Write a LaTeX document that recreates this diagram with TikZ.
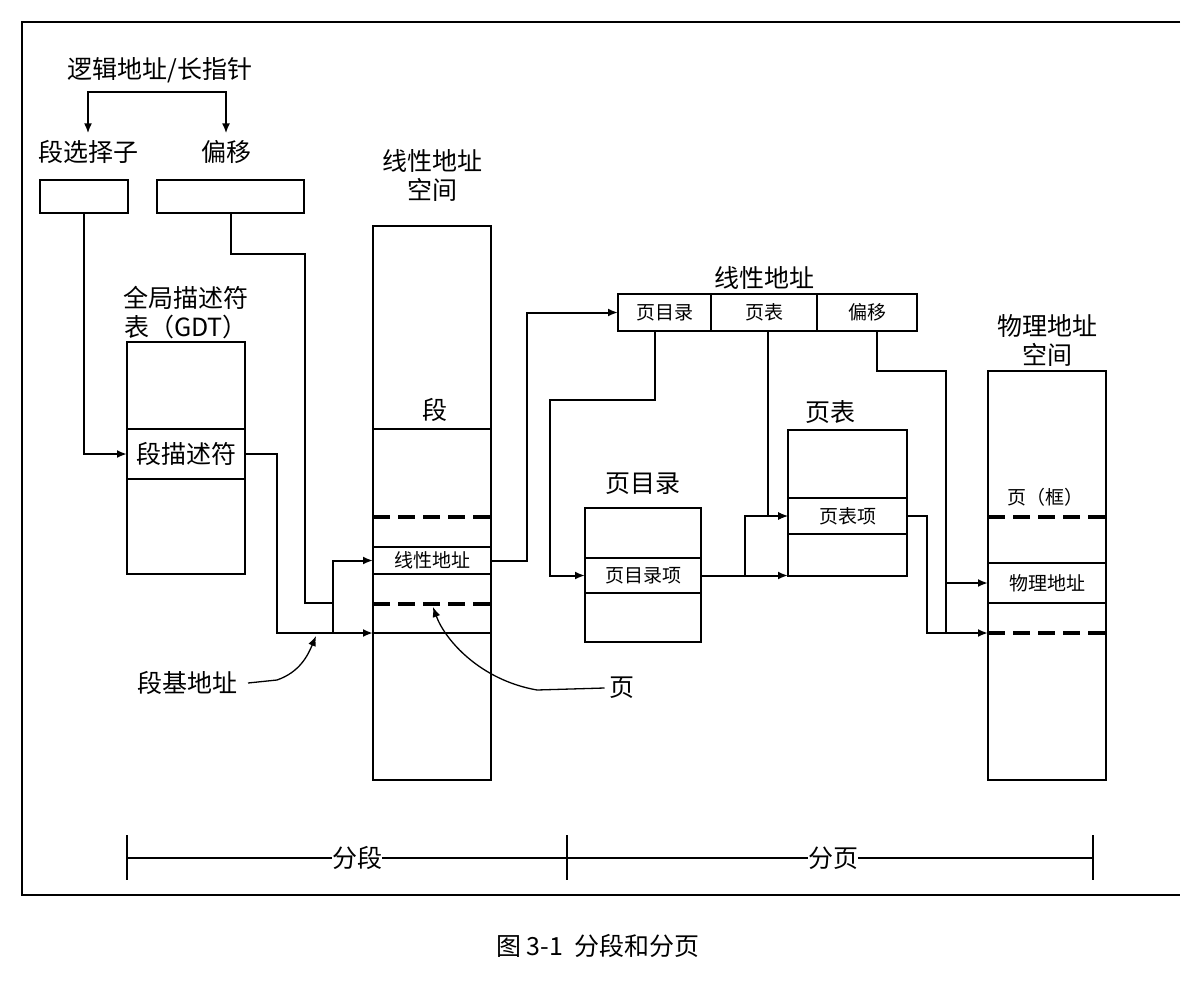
\documentclass[tikz,border=0pt]{standalone}
\usepackage{fontspec}
\setmainfont{Noto Sans CJK SC}
\usetikzlibrary{arrows.meta,positioning,calc}
\begin{document}
\begin{tikzpicture}[x=1pt, y=-1pt, >={Latex[length=10pt,width=8pt]}, line width=2pt, node distance=4pt]
        \tikzstyle{box}=[draw, inner sep=0pt, outer sep=0pt]
        \tikzstyle{lbl}=[inner sep=0pt, font=\fontsize{25}{29}\selectfont, align=center]
        \tikzstyle{small}=[inner sep=0pt, font=\fontsize{19}{22}\selectfont]
        \tikzstyle{brk}=[line width=4pt, dash pattern=on 17pt off 8pt]
        \tikzstyle{curve}=[line width=1.3pt, ->]
        \useasboundingbox (0,0) rectangle (1196,982);
        % frame
        \draw (1180,22) -- (22,22) -- (22,895) -- (1180,895);

        % logical address
        \node[lbl] (logic) at (160,70) {逻辑地址/长指针};
        \node[lbl] (sellbl) at (88,152) {段选择子};
        \node[lbl] (offlbl) at (226,152) {偏移};
        \node[box, minimum width=88pt, minimum height=33pt] (selbox) at (84,196.5) {};
        \node[box, minimum width=147pt, minimum height=33pt] (offbox) at (230.5,196.5) {};
        \coordinate (lsplit) at (160,92);
        \draw[->] (lsplit) -| ([yshift=6pt]sellbl.north);
        \draw[->] (lsplit) -| ([yshift=6pt]offlbl.north);

        % GDT
        \node[box, minimum width=118pt, minimum height=232pt] (gdt) at (186,458) {};
        \node[box, lbl, minimum width=118pt, minimum height=50pt] (gdtent) at (186,454) {段描述符};
        \node[lbl, above=2pt of gdt] (gdttitle) {全局描述符\\表（GDT）};

        % linear address space
        \node[box, minimum width=118pt, minimum height=554pt] (lin) at (432,503) {};
        \node[lbl, above=24pt of lin] (lintitle) {线性地址\\空间};
        \node[lbl] (seglbl) at (435,410) {段};
        \draw (373,429) -- (491,429);
        \draw[brk] (373,517) -- (491,517);
        \node[box, small, minimum width=118pt, minimum height=27pt] (linaddr) at (432,560.5) {线性地址};
        \draw[brk] (373,604) -- (491,604);
        \draw (373,633) -- (491,633);
        \coordinate (linbase) at (373,633);

        % linear address fields
        \node[box, small, minimum width=93pt, minimum height=37pt] (pdf) at (664.5,312.5) {页目录};
        \node[box, small, minimum width=106pt, minimum height=37pt, right=0pt of pdf] (ptf) {页表};
        \node[box, small, minimum width=100pt, minimum height=37pt, right=0pt of ptf] (offf) {偏移};
        \node[lbl, above=4pt of ptf] (bartitle) {线性地址};

        % page directory
        \node[box, minimum width=116pt, minimum height=134pt] (pd) at (643,575) {};
        \node[box, small, minimum width=116pt, minimum height=35pt] (pdent) at (643,575.5) {页目录项};
        \node[lbl, above=12pt of pd] (pdtitle) {页目录};

        % page table
        \node[box, minimum width=119pt, minimum height=146pt] (pt) at (847.5,502.5) {};
        \node[box, small, minimum width=119pt, minimum height=36pt] (ptent) at (847.5,516) {页表项};
        \node[lbl, above=5pt of pt, xshift=-17pt] (pttitle) {页表};

        % physical address space
        \node[box, minimum width=118pt, minimum height=409pt] (phys) at (1047,575.5) {};
        \node[lbl, above=4pt of phys] (phystitle) {物理地址\\空间};
        \node[small] (framelbl) at (1045,497) {页（框）};
        \draw[brk] (988,517) -- (1106,517);
        \node[box, small, minimum width=118pt, minimum height=40pt] (physrow) at (1047,583) {物理地址};
        \draw[brk] (988,633) -- (1106,633);
        \coordinate (physbase) at (988,633);

        % segmentation connectors
        \coordinate (segj) at (333,633);
        \draw[->] (selbox.south) |- (gdtent.west);
        \draw (offbox.south) |- (305,254) |- (333,603);
        \draw[->] (gdtent.east) -| (277,633) -- (linbase);
        \draw[->] (segj) |- (linaddr.west);

        % paging connectors
        \draw[->] (linaddr.east) -- ++(36,0) |- (pdf.west);
        \draw[->] ([xshift=-9.5pt]pdf.south) |- (550,400) |- (pdent.west);
        \coordinate (pdj) at ($(pdent.east)+(44,0)$);
        \draw[->] (pdent.east) -- (pdent.east -| pt.west);
        \draw[->] (pdj) |- (ptent.west);
        \draw[->] ([xshift=4pt]ptf.south) |- (ptent.west);
        \draw[->] (ptent.east) -| (927,633) -- (physbase);
        \draw ([xshift=10pt]offf.south) |- (946,371) coordinate (offj) -- (946,633);
        \draw[->] (offj |- physrow.west) -- (physrow.west);

        % pointer labels
        \node[lbl] (pagelbl) at (622,688) {页};
        \coordinate (pagetip) at (433,607);
        \draw[curve] ([xshift=-4pt]pagelbl.west) -- (537,690) .. controls (480,680) and (445,640) .. (pagetip);
        \node[lbl] (baselbl) at (187,683) {段基地址};
        \coordinate (basetip) at (316,636);
        \draw[curve] ([xshift=10pt]baselbl.east) -- (277,680) .. controls (300,672) and (308,655) .. (basetip);

        % scale
        \coordinate (s1) at (127,858);
        \coordinate (s2) at (567,858);
        \coordinate (s3) at (1093,858);
        \draw (s1) -- (s3);
        \foreach \p in {s1,s2,s3}
            \draw[line width=1.5pt] ([yshift=23pt]\p) -- ([yshift=-22pt]\p);
        \node[lbl, fill=white] (seglab) at (357,858) {分段};
        \node[lbl, fill=white] (pagelab) at (833,858) {分页};

        % caption
        \node[lbl] (caption) at (598,946) {图 3-1~~分段和分页};
\end{tikzpicture}
\end{document}
